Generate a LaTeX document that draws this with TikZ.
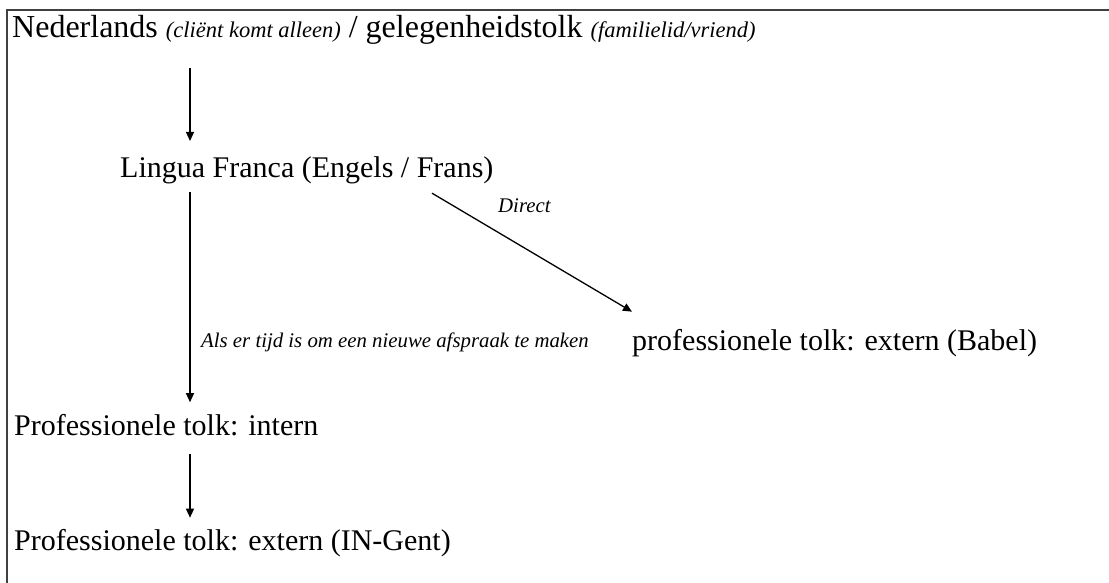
\documentclass[tikz,border=0pt]{standalone}
\usepackage{fontspec}
\setmainfont{Liberation Serif}
\usetikzlibrary{arrows.meta}
\tikzset{
  box/.style={inner sep=0pt, anchor=base west, font=\fontsize{30}{36}\selectfont},
  note/.style={inner sep=0pt, anchor=base west, font=\fontsize{20.8}{25}\selectfont\itshape},
  arr/.style={-{Triangle[length=9pt,width=8pt]}, line width=1.3pt}
}
\newcommand{\aside}[1]{{\fontsize{22.5}{27}\selectfont\itshape #1}}
\begin{document}
\begin{tikzpicture}[x=1pt,y=-1pt]
  \useasboundingbox (0,0) rectangle (1109,583);
  \draw[line width=1.5pt, black!75] (7,583) -- (7,10) -- (1109,10);
  \draw
    (12,38) node[box, font=\fontsize{32}{38}\selectfont] (title)
      {Nederlands \aside{(cliënt komt alleen)} / gelegenheidstolk \aside{(familielid/vriend)}}
    (120,178) node[box] (lingua){Lingua Franca (Engels / Frans)}
    (632,350) node[box] (babel){professionele tolk: extern (Babel)}
    (14,435) node[box] (intern){Professionele tolk: intern}
    (14,550) node[box] (ingent){Professionele tolk: extern (IN-Gent)}
    (201,347) node[note] (later){Als er tijd is om een nieuwe afspraak te maken}
    (498,212) node[note] (direct){Direct};
  \coordinate (spine) at (190,0);
  \begin{scope}[arr]
    \draw[shorten <=23pt, shorten >=16pt] (title.south -| spine) to (lingua.north -| spine);
    \draw[shorten <=7.5pt, shorten >=11.5pt] (lingua.south -| spine) to (intern.north -| spine);
    \draw[shorten <=18pt, shorten >=11pt] (intern.south -| spine) to (ingent.north -| spine);
    \draw ([xshift=312pt,yshift=-8.5pt]lingua.south west) to ([yshift=17pt]babel.north west);
  \end{scope}
\end{tikzpicture}
\end{document}
